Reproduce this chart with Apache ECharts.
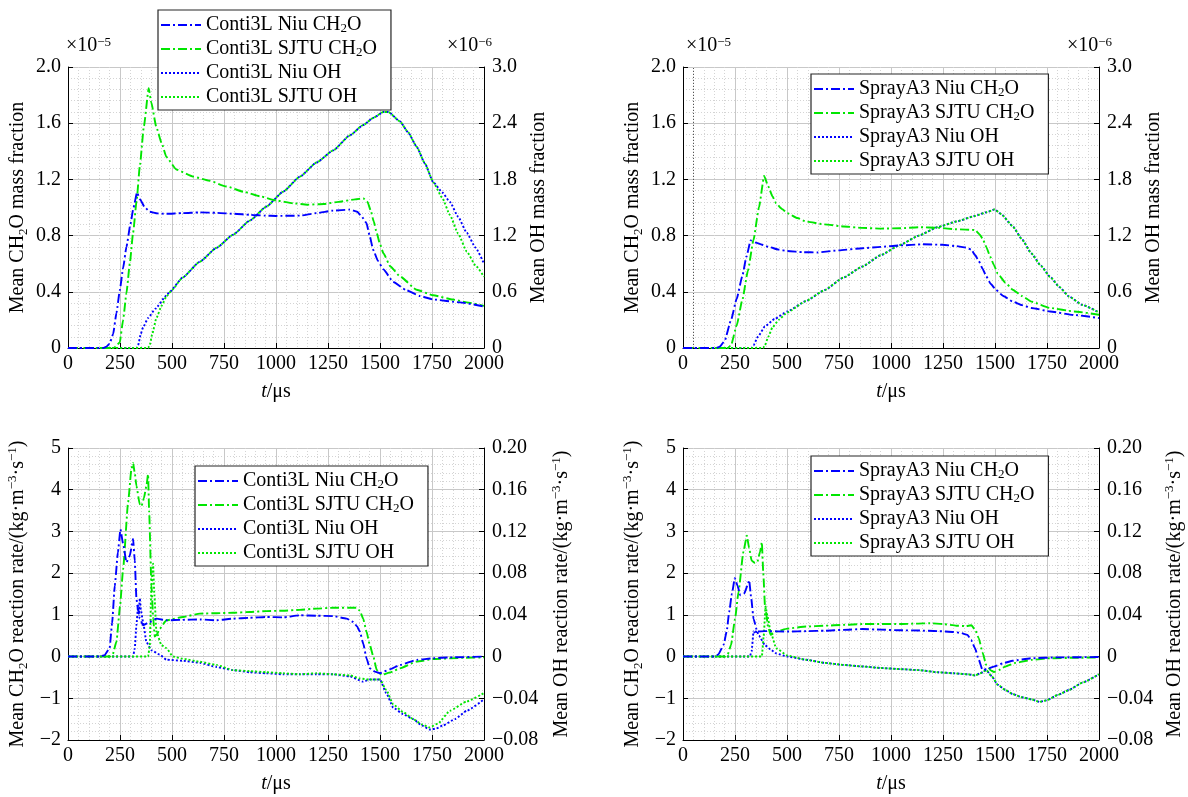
<!DOCTYPE html>
<html>
<head>
<meta charset="utf-8">
<script src="https://cdn.jsdelivr.net/npm/echarts@6/dist/echarts.min.js"></script>
<style>
  html, body { margin: 0; padding: 0; background: #fff; }
  #chart { width: 1188px; height: 797px; }
</style>
</head>
<body>
<div id="chart"></div>
<script>
// time axis (μs) shared by all panels
const tTicks = [0, 250, 500, 750, 1000, 1250, 1500, 1750, 2000];

// --- top-left: Conti3L mass fractions (CH2O in 1e-5, OH in 1e-6) ---
const tlNiuCH2O = [[0,0],[170,0],[185,0.01],[200,0.03],[217,0.1],[233,0.25],[249,0.41],[265,0.57],[281,0.72],[300,0.88],[315,1.0],[332,1.108],[345,1.06],[370,1.0],[393,0.97],[430,0.958],[473,0.955],[550,0.96],[633,0.965],[714,0.962],[800,0.955],[874,0.948],[950,0.942],[1000,0.94],[1115,0.942],[1195,0.96],[1275,0.978],[1355,0.985],[1390,0.97],[1410,0.94],[1435,0.89],[1450,0.8],[1467,0.7],[1490,0.62],[1516,0.56],[1564,0.47],[1628,0.41],[1692,0.37],[1756,0.345],[1884,0.325],[2000,0.295]];
const tlSjtuCH2O = [[0,0],[210,0],[225,0.005],[249,0.04],[265,0.2],[281,0.39],[297,0.6],[313,0.82],[330,1.05],[345,1.29],[365,1.58],[388,1.85],[400,1.75],[425,1.57],[450,1.46],[473,1.36],[521,1.27],[601,1.22],[680,1.19],[761,1.15],[850,1.11],[922,1.08],[1000,1.05],[1082,1.03],[1150,1.02],[1230,1.025],[1300,1.04],[1380,1.058],[1420,1.065],[1440,1.04],[1455,0.98],[1470,0.9],[1484,0.82],[1500,0.74],[1516,0.675],[1550,0.58],[1596,0.51],[1676,0.415],[1756,0.375],[1850,0.345],[1917,0.325],[2000,0.3]];
const tlNiuOH = [[0,0],[330,0],[337,0.03],[350,0.15],[361,0.22],[385,0.32],[420,0.42],[473,0.56],[489,0.6],[550,0.75],[633,0.92],[714,1.07],[794,1.21],[874,1.36],[954,1.51],[1035,1.67],[1115,1.83],[1195,1.98],[1275,2.11],[1355,2.27],[1419,2.38],[1470,2.46],[1516,2.52],[1540,2.52],[1596,2.42],[1636,2.3],[1676,2.15],[1716,1.97],[1756,1.77],[1800,1.66],[1836,1.56],[1876,1.4],[1917,1.23],[1960,1.07],[2000,0.9]];
const tlSjtuOH = [[0,0],[385,0],[393,0.03],[405,0.15],[425,0.32],[450,0.45],[473,0.55],[500,0.62],[550,0.75],[633,0.92],[714,1.07],[794,1.21],[874,1.36],[954,1.51],[1035,1.67],[1115,1.83],[1195,1.98],[1275,2.11],[1355,2.27],[1419,2.38],[1470,2.46],[1516,2.52],[1540,2.52],[1596,2.42],[1636,2.3],[1676,2.15],[1716,1.97],[1756,1.77],[1800,1.6],[1836,1.42],[1876,1.22],[1917,1.03],[1960,0.88],[2000,0.76]];

// --- top-right: SprayA3 mass fractions ---
const trNiuCH2O = [[0,0],[160,0],[177,0.01],[200,0.05],[231,0.2],[258,0.35],[285,0.51],[305,0.65],[325,0.765],[350,0.75],[380,0.735],[412,0.72],[460,0.7],[502,0.69],[580,0.682],[646,0.68],[750,0.695],[863,0.71],[950,0.72],[1043,0.73],[1152,0.738],[1250,0.735],[1314,0.725],[1360,0.715],[1386,0.7],[1405,0.66],[1422,0.62],[1440,0.565],[1458,0.51],[1480,0.455],[1504,0.415],[1540,0.37],[1585,0.33],[1630,0.305],[1675,0.285],[1765,0.26],[1880,0.235],[2000,0.213]];
const trSjtuCH2O = [[0,0],[215,0],[231,0.02],[258,0.16],[285,0.34],[312,0.55],[339,0.77],[365,1.0],[390,1.225],[410,1.15],[430,1.08],[448,1.03],[475,0.99],[502,0.96],[550,0.925],[592,0.9],[680,0.88],[773,0.865],[860,0.855],[953,0.85],[1043,0.852],[1134,0.86],[1230,0.855],[1314,0.845],[1404,0.84],[1425,0.81],[1440,0.78],[1458,0.72],[1477,0.65],[1495,0.59],[1513,0.53],[1550,0.465],[1585,0.415],[1630,0.37],[1675,0.33],[1765,0.285],[1880,0.26],[2000,0.237]];
const trNiuOH = [[0,0],[330,0],[339,0.03],[360,0.12],[394,0.23],[440,0.31],[502,0.39],[590,0.5],[682,0.62],[770,0.75],[863,0.87],[950,0.99],[1043,1.1],[1134,1.2],[1224,1.29],[1314,1.35],[1404,1.41],[1460,1.45],[1498,1.48],[1530,1.43],[1585,1.3],[1630,1.16],[1675,1.01],[1720,0.88],[1765,0.76],[1810,0.65],[1856,0.55],[1920,0.46],[2000,0.38]];
const trSjtuOH = [[0,0],[385,0],[394,0.03],[410,0.12],[430,0.22],[460,0.3],[502,0.38],[590,0.5],[682,0.62],[770,0.75],[863,0.87],[950,0.99],[1043,1.1],[1134,1.2],[1224,1.29],[1314,1.35],[1404,1.41],[1460,1.45],[1498,1.48],[1530,1.43],[1585,1.3],[1630,1.16],[1675,1.01],[1720,0.88],[1765,0.76],[1810,0.65],[1856,0.55],[1920,0.46],[2000,0.38]];

// --- bottom-left: Conti3L reaction rates (CH2O left, OH right) ---
const blNiuCH2O = [[0,0],[152,0],[175,0.03],[200,0.2],[212,0.8],[225,1.7],[240,2.5],[252,3.05],[265,2.7],[281,2.26],[297,2.42],[313,2.82],[321,2.3],[329,1.39],[337,1.1],[345,0.91],[361,0.75],[393,0.83],[425,0.91],[473,0.87],[550,0.88],[634,0.89],[714,0.87],[794,0.91],[874,0.93],[954,0.95],[1034,0.94],[1115,0.99],[1195,0.98],[1275,0.97],[1339,0.91],[1371,0.83],[1390,0.72],[1403,0.6],[1420,0.3],[1435,-0.04],[1451,-0.28],[1475,-0.36],[1500,-0.4],[1550,-0.3],[1596,-0.2],[1676,-0.08],[1756,-0.04],[1836,-0.02],[2000,0]];
const blSjtuCH2O = [[0,0],[200,0],[215,0.05],[233,0.36],[250,1.2],[265,2.1],[289,3.7],[305,4.5],[313,4.64],[321,4.4],[329,4.09],[345,3.65],[353,3.6],[365,3.8],[377,4.09],[385,4.37],[390,3.5],[401,1.7],[410,0.9],[417,0.48],[430,0.55],[441,0.67],[473,0.87],[553,0.95],[634,1.03],[714,1.04],[794,1.05],[874,1.07],[954,1.09],[1034,1.1],[1115,1.12],[1195,1.15],[1275,1.17],[1387,1.17],[1403,1.1],[1419,0.91],[1435,0.6],[1451,0.28],[1468,0],[1484,-0.32],[1508,-0.44],[1550,-0.38],[1596,-0.28],[1676,-0.12],[1756,-0.06],[1900,-0.03],[2000,-0.02]];
const blNiuOH = [[0,0],[313,0],[321,0.008],[329,0.03],[337,0.049],[341,0.04],[345,0.056],[350,0.045],[361,0.033],[377,0.014],[401,0.006],[440,0.002],[473,-0.003],[550,-0.004],[634,-0.006],[714,-0.01],[794,-0.013],[874,-0.015],[954,-0.016],[1034,-0.017],[1115,-0.017],[1195,-0.017],[1275,-0.017],[1355,-0.019],[1419,-0.024],[1450,-0.022],[1500,-0.022],[1530,-0.035],[1564,-0.049],[1610,-0.055],[1660,-0.06],[1700,-0.066],[1740,-0.07],[1770,-0.069],[1804,-0.066],[1860,-0.06],[1917,-0.052],[2000,-0.041]];
const blSjtuOH = [[0,0],[385,0],[393,0.01],[401,0.068],[409,0.089],[415,0.06],[425,0.024],[449,0.011],[473,0.008],[505,0],[550,-0.002],[634,-0.005],[714,-0.008],[794,-0.013],[874,-0.014],[954,-0.015],[1034,-0.016],[1115,-0.017],[1195,-0.016],[1275,-0.017],[1355,-0.018],[1403,-0.021],[1450,-0.022],[1500,-0.022],[1530,-0.032],[1564,-0.046],[1610,-0.053],[1660,-0.06],[1700,-0.065],[1740,-0.068],[1780,-0.064],[1836,-0.052],[1917,-0.043],[2000,-0.035]];

// --- bottom-right: SprayA3 reaction rates ---
const brNiuCH2O = [[0,0],[150,0],[170,0.05],[195,0.28],[210,0.6],[222,1.07],[235,1.5],[249,1.88],[262,1.7],[276,1.47],[294,1.51],[310,1.7],[318,1.83],[328,1.4],[339,0.91],[357,0.6],[394,0.61],[502,0.6],[600,0.61],[682,0.62],[770,0.64],[863,0.66],[950,0.645],[1043,0.63],[1130,0.625],[1224,0.61],[1300,0.59],[1332,0.57],[1368,0.52],[1385,0.4],[1404,0.2],[1420,-0.05],[1440,-0.32],[1465,-0.29],[1495,-0.24],[1540,-0.16],[1585,-0.1],[1675,-0.04],[1800,-0.02],[2000,-0.01]];
const brSjtuCH2O = [[0,0],[204,0],[215,0.05],[231,0.28],[250,0.9],[267,1.55],[290,2.5],[307,2.9],[318,2.6],[330,2.3],[345,2.25],[357,2.26],[370,2.5],[379,2.74],[386,2.0],[394,1.23],[410,0.7],[421,0.52],[448,0.6],[502,0.67],[592,0.72],[682,0.74],[770,0.76],[863,0.78],[953,0.78],[1043,0.78],[1120,0.79],[1188,0.8],[1250,0.78],[1314,0.74],[1360,0.73],[1386,0.75],[1404,0.65],[1422,0.44],[1440,0.1],[1458,-0.2],[1480,-0.33],[1495,-0.37],[1520,-0.32],[1549,-0.24],[1600,-0.15],[1675,-0.08],[1765,-0.04],[1880,-0.03],[2000,-0.02]];
const brNiuOH = [[0,0],[321,0],[330,0.005],[339,0.024],[346,0.022],[354,0.025],[365,0.02],[394,0.011],[420,0.007],[448,0.003],[502,0],[590,-0.003],[682,-0.006],[770,-0.008],[863,-0.0095],[953,-0.011],[1043,-0.012],[1134,-0.013],[1224,-0.015],[1300,-0.016],[1368,-0.017],[1404,-0.018],[1430,-0.016],[1458,-0.013],[1485,-0.019],[1513,-0.027],[1550,-0.032],[1585,-0.036],[1630,-0.039],[1675,-0.041],[1715,-0.0435],[1747,-0.042],[1800,-0.037],[1856,-0.032],[1920,-0.025],[2000,-0.017]];
const brSjtuOH = [[0,0],[379,0],[388,0.02],[397,0.048],[405,0.04],[421,0.024],[448,0.008],[502,0.001],[590,-0.003],[682,-0.006],[770,-0.008],[863,-0.0095],[953,-0.011],[1043,-0.012],[1134,-0.013],[1224,-0.015],[1300,-0.016],[1368,-0.017],[1404,-0.018],[1430,-0.016],[1458,-0.013],[1485,-0.019],[1513,-0.027],[1550,-0.032],[1585,-0.036],[1630,-0.039],[1675,-0.041],[1715,-0.0435],[1747,-0.042],[1800,-0.037],[1856,-0.032],[1920,-0.025],[2000,-0.017]];

const FONT = '"Liberation Serif", "Times New Roman", "DejaVu Serif", serif';
const BLUE = '#0000ff', GREEN = '#00e600';
const DASHDOT = [9, 3, 2, 3], DOT = [2, 2];
const minus = s => s.replace('-', '\u2212');

const rich = {
  n: { fontFamily: FONT, fontSize: 20, color: '#000' },
  sub: { fontFamily: FONT, fontSize: 13, lineHeight: 13, verticalAlign: 'bottom', color: '#000' },
  sup: { fontFamily: FONT, fontSize: 13, lineHeight: 13, verticalAlign: 'top', color: '#000' },
  i: { fontFamily: FONT, fontSize: 20, fontStyle: 'italic', color: '#000' }
};
const txt = { fontFamily: FONT, fontSize: 20, color: '#000', lineHeight: 24, rich: rich };
const tickFont = { fontFamily: FONT, fontSize: 20, color: '#000', rich: rich };
// wrap tick text in a rich token so the serif face is applied
const tok = s => '{n|' + s + '}';

const grids = [
  { left: 68, top: 67, width: 416, height: 281 },
  { left: 683, top: 67, width: 416, height: 281 },
  { left: 68, top: 448, width: 416, height: 294 },
  { left: 683, top: 448, width: 416, height: 294 }
];

function xAxis(i) {
  return {
    type: 'value', gridIndex: i, min: tTicks[0], max: tTicks[tTicks.length - 1], interval: 250,
    axisLine: { onZero: false, lineStyle: { color: '#000', width: 1 } },
    axisTick: { inside: true, length: 5, lineStyle: { color: '#000' } },
    minorTick: { show: false, splitNumber: 5 },
    splitLine: { show: true, lineStyle: { color: '#c8c8c8', width: 1 } },
    minorSplitLine: { show: true, lineStyle: { color: '#d4d4d4', width: 1, type: [1, 2] } },
    axisLabel: Object.assign({ margin: 6, formatter: v => tok(String(v)) }, tickFont),
    name: '{i|t}/μs', nameLocation: 'middle', nameGap: 32, nameTextStyle: txt
  };
}
function yLeft(i, min, max, step, fmt, name, gap) {
  return {
    type: 'value', gridIndex: i, position: 'left', min: min, max: max, interval: step,
    axisLine: { show: true, onZero: false, lineStyle: { color: '#000', width: 1 } },
    axisTick: { show: true, inside: true, length: 5, lineStyle: { color: '#000' } },
    minorTick: { show: false, splitNumber: 5 },
    splitLine: { show: true, lineStyle: { color: '#c8c8c8', width: 1 } },
    minorSplitLine: { show: true, lineStyle: { color: '#d4d4d4', width: 1, type: [1, 2] } },
    axisLabel: Object.assign({ margin: 7, formatter: v => tok(fmt(v)) }, tickFont),
    name: name, nameLocation: 'middle', nameGap: gap, nameTextStyle: txt
  };
}
function yRight(i, min, max, step, fmt, name, gap) {
  return {
    type: 'value', gridIndex: i, position: 'right', min: min, max: max, interval: step,
    axisLine: { show: true, onZero: false, lineStyle: { color: '#000', width: 1 } },
    axisTick: { show: true, inside: true, length: 5, lineStyle: { color: '#000' } },
    splitLine: { show: false },
    axisLabel: Object.assign({ margin: 8, formatter: v => tok(fmt(v)) }, tickFont),
    name: name, nameLocation: 'middle', nameGap: gap, nameTextStyle: txt
  };
}
const f1 = v => Math.abs(v) < 1e-9 ? '0' : v.toFixed(1);
const f0 = v => Math.abs(v) < 1e-9 ? '0' : minus(String(Math.round(v)));
const f2 = v => Math.abs(v) < 1e-9 ? '0' : minus(v.toFixed(2));

function line(name, data, xi, yi, color, dash, z) {
  return {
    type: 'line', name: name, data: data, xAxisIndex: xi, yAxisIndex: yi,
    symbol: 'none', smooth: 0.15, smoothMonotone: 'x', z: z,
    lineStyle: { color: color, width: 1.9, type: dash },
    itemStyle: { color: color }
  };
}
function legend(names, left, top) {
  return {
    orient: 'vertical', left: left, top: top, data: names,
    itemWidth: 40, itemHeight: 14, itemGap: 4, padding: [5, 14, 3, 2],
    backgroundColor: '#fff', borderColor: '#262626', borderWidth: 1.2,
    itemStyle: { opacity: 0 },
    textStyle: { fontFamily: FONT, fontSize: 20, color: '#000', lineHeight: 20, rich: rich },
    formatter: n => n.replace('CH2O', 'CH{sub|2}O')
  };
}

const cNames = ['Conti3L Niu CH2O', 'Conti3L SJTU CH2O', 'Conti3L Niu OH', 'Conti3L SJTU OH'];
const sNames = ['SprayA3 Niu CH2O', 'SprayA3 SJTU CH2O', 'SprayA3 Niu OH', 'SprayA3 SJTU OH'];

const massName = 'Mean CH{sub|2}O mass fraction';
const ohMassName = 'Mean OH mass fraction';
const rateName = 'Mean CH{sub|2}O reaction rate/(kg·m{sup|\u22123}·s{sup|\u22121})';
const ohRateName = 'Mean OH reaction rate/(kg·m{sup|\u22123}·s{sup|\u22121})';

const trMark = line(sNames[0], trNiuCH2O, 1, 2, BLUE, DASHDOT, 5);
trMark.markLine = {
  silent: true, symbol: 'none', label: { show: false },
  lineStyle: { color: '#555', width: 1, type: [1, 2] },
  data: [{ xAxis: 50 }]
};

const scaleText = (text, left, top) => ({
  type: 'text', left: left, top: top,
  style: { text: text, fontFamily: FONT, fontSize: 20, fill: '#000', rich: rich }
});

const option = {
  animation: false,
  backgroundColor: '#fff',
  textStyle: { fontFamily: FONT },
  grid: grids,
  xAxis: [xAxis(0), xAxis(1), xAxis(2), xAxis(3)],
  yAxis: [
    yLeft(0, 0, 2.0, 0.4, f1, massName, 38),
    yRight(0, 0, 3.0, 0.6, f1, ohMassName, 43),
    yLeft(1, 0, 2.0, 0.4, f1, massName, 38),
    yRight(1, 0, 3.0, 0.6, f1, ohMassName, 43),
    yLeft(2, -2, 5, 1, f0, rateName, 38),
    yRight(2, -0.08, 0.2, 0.04, f2, ohRateName, 66),
    yLeft(3, -2, 5, 1, f0, rateName, 38),
    yRight(3, -0.08, 0.2, 0.04, f2, ohRateName, 64)
  ],
  legend: [
    legend(cNames, 158, 10),
    legend(sNames, 811, 74),
    legend(cNames, 195, 466),
    legend(sNames, 811, 456)
  ],
  graphic: [
    scaleText('{n|×10}{sup|\u22125}', 66, 36),
    scaleText('{n|×10}{sup|\u22126}', 447, 36),
    scaleText('{n|×10}{sup|\u22125}', 686, 36),
    scaleText('{n|×10}{sup|\u22126}', 1067, 36)
  ],
  series: [
    line(cNames[0], tlNiuCH2O, 0, 0, BLUE, DASHDOT, 5),
    line(cNames[1], tlSjtuCH2O, 0, 0, GREEN, DASHDOT, 4),
    line(cNames[2], tlNiuOH, 0, 1, BLUE, DOT, 3),
    line(cNames[3], tlSjtuOH, 0, 1, GREEN, DOT, 4),
    trMark,
    line(sNames[1], trSjtuCH2O, 1, 2, GREEN, DASHDOT, 4),
    line(sNames[2], trNiuOH, 1, 3, BLUE, DOT, 3),
    line(sNames[3], trSjtuOH, 1, 3, GREEN, DOT, 4),
    line(cNames[0], blNiuCH2O, 2, 4, BLUE, DASHDOT, 5),
    line(cNames[1], blSjtuCH2O, 2, 4, GREEN, DASHDOT, 4),
    line(cNames[2], blNiuOH, 2, 5, BLUE, DOT, 3),
    line(cNames[3], blSjtuOH, 2, 5, GREEN, DOT, 4),
    line(sNames[0], brNiuCH2O, 3, 6, BLUE, DASHDOT, 5),
    line(sNames[1], brSjtuCH2O, 3, 6, GREEN, DASHDOT, 4),
    line(sNames[2], brNiuOH, 3, 7, BLUE, DOT, 3),
    line(sNames[3], brSjtuOH, 3, 7, GREEN, DOT, 4)
  ]
};

const chart = echarts.init(document.getElementById('chart'));
chart.setOption(option);
window.addEventListener('resize', chart.resize);
</script>
</body>
</html>
